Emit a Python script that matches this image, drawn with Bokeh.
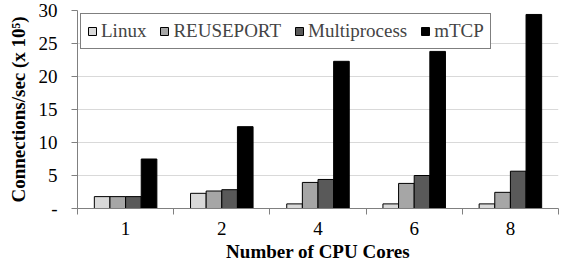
from bokeh.plotting import figure
from bokeh.models import ColumnDataSource, FixedTicker, Legend, LegendItem, Range1d
from bokeh.transform import dodge
from bokeh.embed import file_html
from bokeh.resources import INLINE

cores = ["1", "2", "4", "6", "8"]
linux = [1.8, 2.3, 0.7, 0.7, 0.7]
reuseport = [1.8, 2.65, 3.95, 3.8, 2.45]
multiprocess = [1.8, 2.85, 4.4, 5.0, 5.65]
mtcp = [7.5, 12.4, 22.3, 23.8, 29.4]
y_ticks = [0, 5, 10, 15, 20, 25, 30]

series = [("Linux", linux, "#d9d9d9"),
          ("REUSEPORT", reuseport, "#a6a6a6"),
          ("Multiprocess", multiprocess, "#595959"),
          ("mTCP", mtcp, "#000000")]

xpos = [i + 0.5 for i in range(len(cores))]
src = ColumnDataSource(dict(x=xpos, Linux=linux, REUSEPORT=reuseport,
                            Multiprocess=multiprocess, mTCP=mtcp))

FONT = "'Liberation Serif', 'Times New Roman', serif"
FS = "19px"

p = figure(width=560, height=264, output_backend="svg", toolbar_location=None,
           x_range=Range1d(0, len(cores)), y_range=Range1d(0, 30),
           min_border_left=77, min_border_right=2, min_border_top=10, min_border_bottom=44)
p.outline_line_color = None

bw = 0.1625
offsets = [-1.5 * bw, -0.5 * bw, 0.5 * bw, 1.5 * bw]
items = []
for (name, vals, col), off in zip(series, offsets):
    r = p.vbar(x=dodge("x", off, range=p.x_range), top=name, width=bw, source=src,
               fill_color=col, line_color="#000000", line_width=1)
    items.append(LegendItem(label=name, renderers=[r]))

legend = Legend(items=items, orientation="horizontal", location="top_left",
                border_line_color="#000000", border_line_width=1,
                background_fill_alpha=1, background_fill_color="white",
                label_text_font=FONT, label_text_font_size=FS,
                glyph_width=10, glyph_height=10, label_standoff=4, spacing=13,
                padding=6, margin=3, label_height=19)
p.add_layout(legend, "center")

# x axis
p.xaxis.ticker = FixedTicker(ticks=xpos, minor_ticks=[0, 1, 2, 3, 4, 5])
p.xaxis.major_label_overrides = {x: c for x, c in zip(xpos, cores)}
p.xaxis.major_tick_line_color = None
p.xaxis.major_tick_out = 0
p.xaxis.major_tick_in = 0
p.xaxis.minor_tick_out = 6
p.xaxis.minor_tick_in = 0
p.xaxis.minor_tick_line_color = "#808080"
p.xaxis.axis_line_color = "#808080"
p.xaxis.axis_label = "Number of CPU Cores"
p.xaxis.major_label_standoff = 7
p.xaxis.axis_label_standoff = 3

# y axis
p.yaxis.ticker = FixedTicker(ticks=y_ticks)
p.yaxis.major_label_overrides = {0: "-"}
p.yaxis.axis_label = "Connections/sec (x 10\u2075)"
p.yaxis.major_tick_out = 6
p.yaxis.major_tick_in = 0
p.yaxis.minor_tick_line_color = None
p.yaxis.major_tick_line_color = "#808080"
p.yaxis.axis_line_color = "#808080"
p.yaxis.major_label_standoff = 14
p.yaxis.axis_label_standoff = 7

for ax in (p.xaxis, p.yaxis):
    ax.major_label_text_font = FONT
    ax.major_label_text_font_size = FS
    ax.major_label_text_color = "#000000"
    ax.axis_label_text_font = FONT
    ax.axis_label_text_font_size = FS
    ax.axis_label_text_font_style = "bold"
    ax.axis_label_text_color = "#000000"

p.xgrid.grid_line_color = None
p.ygrid.grid_line_color = "#d9d9d9"
p.ygrid.grid_line_width = 1

open("out.html", "w").write(file_html(p, INLINE))
